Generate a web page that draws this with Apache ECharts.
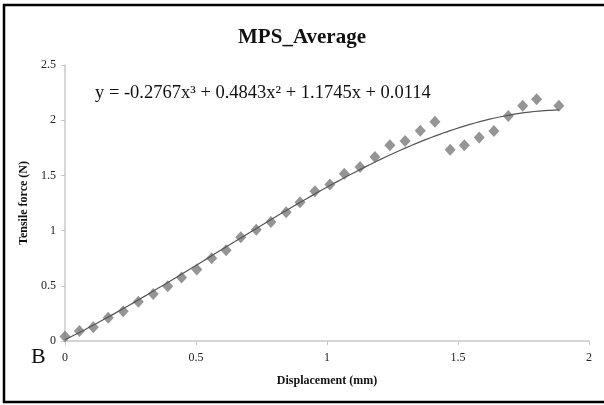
<!DOCTYPE html>
<html>
<head>
<meta charset="utf-8">
<title>MPS_Average</title>
<script src="https://cdn.jsdelivr.net/npm/echarts@6/dist/echarts.min.js"></script>
<style>
  html, body { margin: 0; padding: 0; background: #fff; }
  #chart { width: 604px; height: 405px; }
</style>
</head>
<body>
<div id="chart"></div>
<script>
// Measured displacement (mm) and tensile force (N)
const displacement = [0, 0.055, 0.108, 0.165, 0.222, 0.28, 0.337, 0.392, 0.445, 0.503,
  0.56, 0.615, 0.671, 0.73, 0.786, 0.844, 0.897, 0.954, 1.011, 1.066,
  1.126, 1.183, 1.24, 1.298, 1.356, 1.412, 1.47, 1.524, 1.581, 1.637,
  1.692, 1.747, 1.80, 1.885];
const tensileForce = [0.04, 0.09, 0.125, 0.21, 0.27, 0.355, 0.425, 0.495, 0.575, 0.648,
  0.75, 0.822, 0.94, 1.008, 1.078, 1.166, 1.257, 1.357, 1.418, 1.515,
  1.576, 1.667, 1.773, 1.812, 1.905, 1.985, 1.733, 1.773, 1.843, 1.903,
  2.039, 2.13, 2.19, 2.13];

// Cubic trendline coefficients (x^3, x^2, x, const) as printed on the chart
const trendCoeffs = [-0.2767, 0.4843, 1.1745, 0.0114];
const xTicks = [0, 0.5, 1, 1.5, 2];
const yTicks = [0, 0.5, 1, 1.5, 2, 2.5];

const points = displacement.map((x, i) => [x, tensileForce[i]]);

// Sample the printed cubic over the measured range
const xStart = displacement[0];
const xEnd = displacement[displacement.length - 1];
const trend = [];
for (let k = 0; k <= 100; k++) {
  const x = xStart + (xEnd - xStart) * k / 100;
  const y = ((trendCoeffs[0] * x + trendCoeffs[1]) * x + trendCoeffs[2]) * x + trendCoeffs[3];
  trend.push([x, y]);
}

const serif = '"Liberation Serif", "DejaVu Serif", serif';
const chart = echarts.init(document.getElementById('chart'), null, { renderer: 'canvas' });

chart.setOption({
  animation: false,
  backgroundColor: '#fff',
  title: {
    text: 'MPS_Average',
    left: 'center',
    top: 22,
    textStyle: { fontFamily: serif, fontSize: 21, fontWeight: 'bold', color: '#111' }
  },
  grid: { left: 65, right: 15, top: 65, bottom: 64 },
  xAxis: {
    type: 'value',
    min: xTicks[0],
    max: xTicks[xTicks.length - 1],
    interval: 0.5,
    name: 'Displacement (mm)',
    nameLocation: 'middle',
    nameGap: 34,
    nameTextStyle: { fontFamily: serif, fontSize: 12, fontWeight: 'bold', color: '#111' },
    axisLine: { lineStyle: { color: '#c8c8c8', width: 1.5 } },
    axisTick: { show: true, length: 4, lineStyle: { color: '#c8c8c8' } },
    axisLabel: {
      fontFamily: serif, fontSize: 12, color: '#222', margin: 11,
      formatter: v => String(v)
    },
    splitLine: { show: false }
  },
  yAxis: {
    type: 'value',
    min: yTicks[0],
    max: yTicks[yTicks.length - 1],
    interval: 0.5,
    name: 'Tensile force (N)',
    nameLocation: 'middle',
    nameGap: 32,
    nameTextStyle: { fontFamily: serif, fontSize: 12, fontWeight: 'bold', color: '#111' },
    axisLine: { show: true, lineStyle: { color: '#c8c8c8', width: 1.5 } },
    axisTick: { show: true, length: 4, lineStyle: { color: '#c8c8c8' } },
    axisLabel: {
      fontFamily: serif, fontSize: 12, color: '#222', margin: 9,
      formatter: v => String(v)
    },
    splitLine: { show: false }
  },
  series: [
    {
      name: 'Trend',
      type: 'line',
      data: trend,
      showSymbol: false,
      smooth: false,
      lineStyle: { color: '#555', width: 1.2 },
      z: 3
    },
    {
      name: 'MPS_Average',
      type: 'scatter',
      data: points,
      symbol: 'diamond',
      symbolSize: [11, 12],
      itemStyle: { color: '#7a7a7a' },
      z: 2
    }
  ],
  graphic: [
    {
      type: 'rect',
      shape: { x: 4, y: 5, width: 700, height: 397 },
      style: { fill: 'none', stroke: '#000', lineWidth: 2.5 },
      silent: true
    },
    {
      type: 'text',
      left: 95,
      top: 84,
      style: {
        text: 'y = -0.2767x³ + 0.4843x² + 1.1745x + 0.0114',
        font: '18.5px "Liberation Serif", "DejaVu Serif", serif',
        fill: '#111'
      }
    },
    {
      type: 'text',
      left: 31,
      top: 346,
      style: {
        text: 'B',
        font: '22px "Liberation Serif", "DejaVu Serif", serif',
        fill: '#111'
      }
    }
  ]
});
</script>
</body>
</html>
